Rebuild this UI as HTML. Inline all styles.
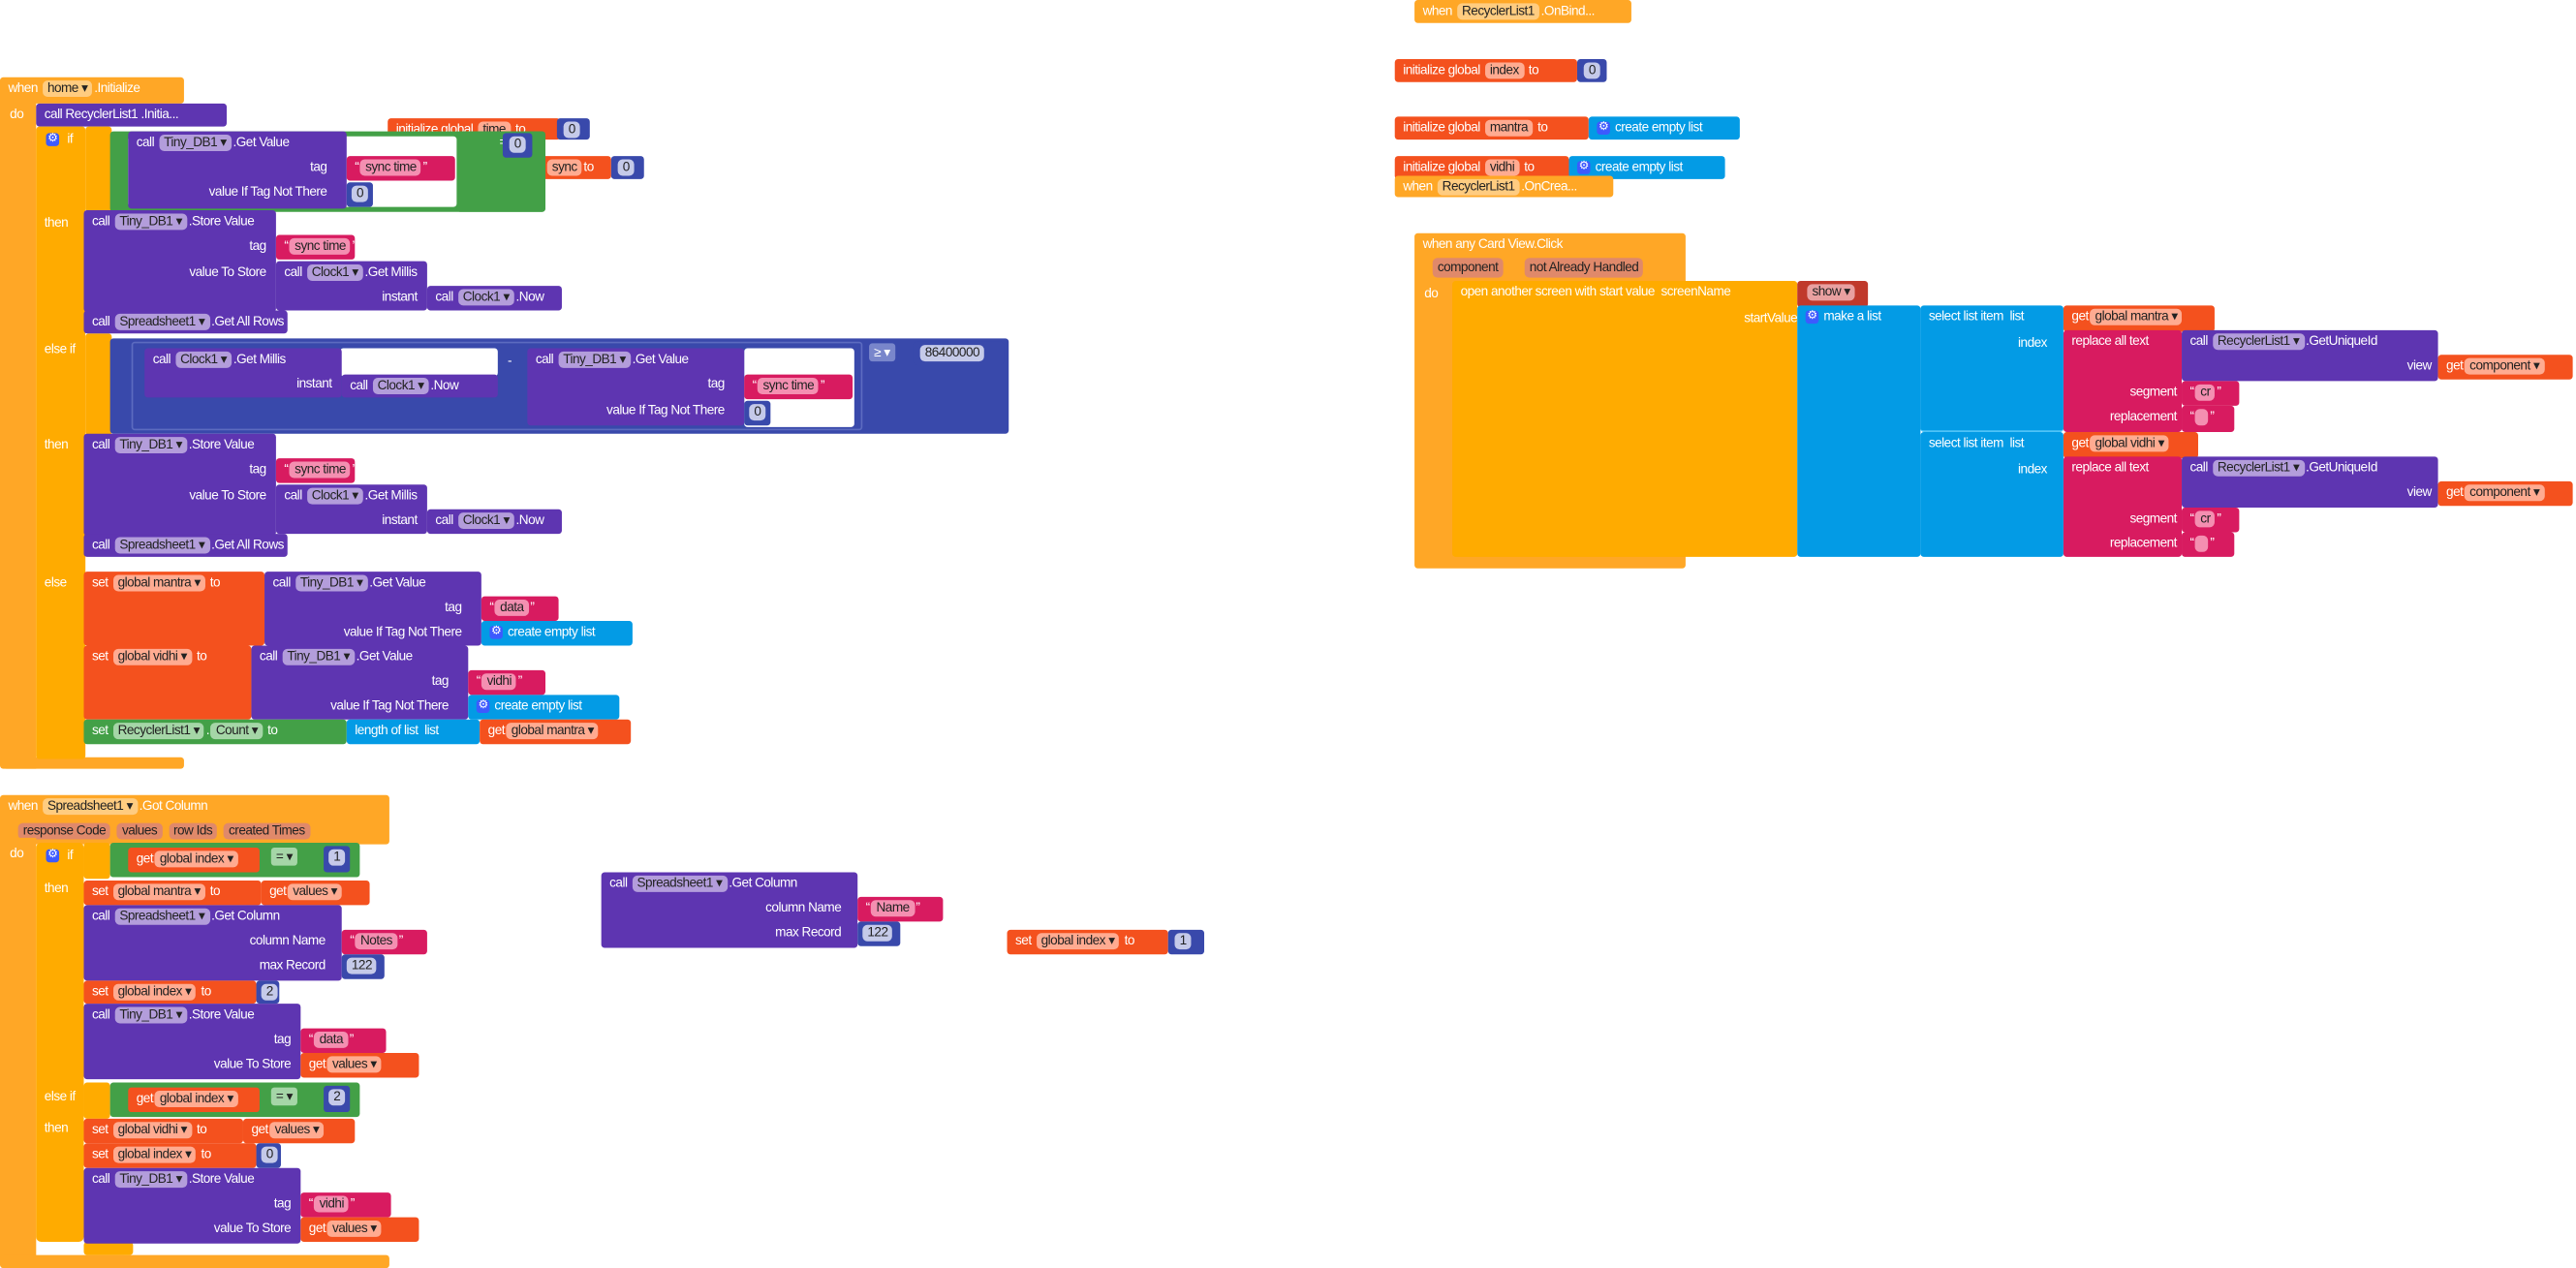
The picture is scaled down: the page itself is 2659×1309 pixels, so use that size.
<!DOCTYPE html>
<html><head><meta charset="utf-8"><style>
html,body{margin:0;padding:0;background:#fff;width:2659px;height:1309px;overflow:hidden}
#s{position:absolute;left:0;top:0;width:1568px;height:772px;transform:scale(1.6958);transform-origin:0 0}
.b{position:absolute;box-sizing:border-box;color:#fff;font:8px/14px "Liberation Sans",sans-serif;letter-spacing:-0.3px;white-space:nowrap;padding-left:5px;border-radius:2px}
.t{position:absolute;color:#fff;font:8px/14px "Liberation Sans",sans-serif;letter-spacing:-0.3px;white-space:nowrap}
.c{display:inline-block;padding:0 3px;border-radius:3px;line-height:10px;color:#222;margin:0 1px}
.E{background:#FFA726}.Y{background:#FFAB00}.P{background:#5E35B1}.R{background:#F4511E}.K{background:#D81B60}.G{background:#43A047}.N{background:#3949AB}.L{background:#039BE5}.W{background:#fff}
.P .c{background:#B39DDB}.R .c{background:#FFAB91}.K .c{background:#F48FB1}.G .c{background:#A5D6A7}.N .c{background:#C5CAE9}.E .c{background:#FFCC80}
.cog{display:inline-block;width:8px;height:8px;background:#3d5afe;border-radius:2px;color:#fff;font-size:7px;line-height:8px;text-align:center;margin-right:3px;vertical-align:middle}
</style></head><body><div id="s">

<div class="b E" style="left:861px;top:0;width:132px;height:14px">when <span class="c">RecyclerList1</span>.OnBind...</div>
<div class="b R" style="left:849px;top:36px;width:111px;height:14px">initialize global <span class="c">index</span> to</div>
<div class="b N" style="left:960px;top:36px;width:18px;height:14px;padding-left:3px"><span class="c">0</span></div>
<div class="b R" style="left:849px;top:71px;width:118px;height:14px">initialize global <span class="c">mantra</span> to</div>
<div class="b L" style="left:967px;top:71px;width:92px;height:14px"><span class="cog">⚙</span>create empty list</div>
<div class="b R" style="left:849px;top:95px;width:106px;height:14px">initialize global <span class="c">vidhi</span> to</div>
<div class="b L" style="left:955px;top:95px;width:95px;height:14px"><span class="cog">⚙</span>create empty list</div>
<div class="b E" style="left:849px;top:107px;width:133px;height:13px">when <span class="c">RecyclerList1</span>.OnCrea...</div>

<div class="b E" style="left:861px;top:142px;width:165px;height:204px"></div>
<div class="t" style="left:866px;top:142px">when any Card View.Click</div>
<div class="t" style="left:872px;top:157px;background:#e0896a;border-radius:3px;line-height:12px;padding:0 3px;color:#222">component</div>
<div class="t" style="left:928px;top:157px;background:#e0896a;border-radius:3px;line-height:12px;padding:0 3px;color:#222">not Already Handled</div>
<div class="t" style="left:867px;top:172px">do</div>
<div class="b Y" style="left:884px;top:171px;width:210px;height:168px"></div>
<div class="t" style="left:889px;top:171px">open another screen with start value &nbsp;screenName</div>
<div class="t" style="right:474px;top:187px">startValue</div>
<div class="b" style="left:1094px;top:171px;width:43px;height:16px;background:#C0392B"><span class="c" style="background:#e8a0a0">show ▾</span></div>
<div class="b L" style="left:1094px;top:186px;width:75px;height:153px"><span class="cog">⚙</span>make a list</div>
<div class="b L" style="left:1169px;top:186px;width:87px;height:77px;border-bottom:1px solid #4fc3f7">select list item &nbsp;list<div class="t" style="right:10px;top:16px">index</div></div>
<div class="b L" style="left:1169px;top:263px;width:87px;height:76px">select list item &nbsp;list<div class="t" style="right:10px;top:16px">index</div></div>
<div class="b R" style="left:1256px;top:186px;width:92px;height:16px">get<span class="c">global mantra ▾</span></div>
<div class="b R" style="left:1256px;top:263px;width:82px;height:16px">get<span class="c">global vidhi ▾</span></div>

<div class="b K" style="left:1256px;top:201px;width:72px;height:62px">replace all text<div class="t" style="right:3px;top:31px">segment</div><div class="t" style="right:3px;top:46px">replacement</div></div>
<div class="b P" style="left:1328px;top:201px;width:156px;height:31px">call <span class="c">RecyclerList1 ▾</span>.GetUniqueId<div class="t" style="right:4px;top:15px">view</div></div>
<div class="b R" style="left:1484px;top:216px;width:82px;height:15px">get<span class="c">component ▾</span></div>
<div class="b K" style="left:1328px;top:232px;width:35px;height:15px">“<span class="c">cr</span>”</div>
<div class="b K" style="left:1328px;top:247px;width:32px;height:16px">“<span class="c">&nbsp;</span>”</div>

<div class="b K" style="left:1256px;top:278px;width:72px;height:61px">replace all text<div class="t" style="right:3px;top:31px">segment</div><div class="t" style="right:3px;top:46px">replacement</div></div>
<div class="b P" style="left:1328px;top:278px;width:156px;height:31px">call <span class="c">RecyclerList1 ▾</span>.GetUniqueId<div class="t" style="right:4px;top:15px">view</div></div>
<div class="b R" style="left:1484px;top:293px;width:82px;height:15px">get<span class="c">component ▾</span></div>
<div class="b K" style="left:1328px;top:309px;width:35px;height:15px">“<span class="c">cr</span>”</div>
<div class="b K" style="left:1328px;top:324px;width:32px;height:15px">“<span class="c">&nbsp;</span>”</div>

<div class="b E" style="left:0;top:47px;width:112px;height:16px">when <span class="c">home ▾</span>.Initialize</div>
<div class="b E" style="left:0;top:60px;width:22px;height:408px;border-radius:0 0 0 4px"></div>
<div class="b E" style="left:0;top:461px;width:112px;height:7px"></div>
<div class="t" style="left:6px;top:63px">do</div>
<div class="b P" style="left:22px;top:63px;width:116px;height:14px">call RecyclerList1 .Initia...</div>
<div class="b Y" style="left:22px;top:77px;width:30px;height:385px"></div>
<div class="t" style="left:28px;top:78px"><span class="cog">⚙</span> if</div>
<div class="t" style="left:27px;top:129px">then</div>
<div class="t" style="left:27px;top:206px">else if</div>
<div class="t" style="left:27px;top:264px">then</div>
<div class="t" style="left:27px;top:348px">else</div>
<div class="b Y" style="left:52px;top:77px;width:16px;height:52px"></div>
<div class="b Y" style="left:52px;top:203px;width:16px;height:62px"></div>

<div class="b R" style="left:236px;top:72px;width:105px;height:13px">initialize global <span class="c">time</span> to</div>
<div class="b N" style="left:339px;top:72px;width:20px;height:13px;padding-left:3px"><span class="c">0</span></div>
<div class="b R" style="left:322px;top:95px;width:50px;height:14px;padding-left:10px"><span class="c">sync</span>to</div>
<div class="b N" style="left:372px;top:95px;width:20px;height:14px;padding-left:3px"><span class="c">0</span></div>

<div class="b G" style="left:67px;top:80px;width:265px;height:49px"></div>
<div class="b W" style="left:78px;top:83px;width:200px;height:43px"></div>
<div class="b P" style="left:78px;top:80px;width:133px;height:47px">call <span class="c">Tiny_DB1 ▾</span>.Get Value<div class="t" style="right:12px;top:15px">tag</div><div class="t" style="right:12px;top:30px">value If Tag Not There</div></div>
<div class="b K" style="left:211px;top:95px;width:66px;height:15px">“<span class="c">sync time</span>”</div>
<div class="b N" style="left:211px;top:111px;width:16px;height:15px;padding-left:2px"><span class="c">0</span></div>
<div class="b G" style="left:278px;top:80px;width:54px;height:49px;padding-left:26px">= ▾</div>
<div class="b N" style="left:306px;top:81px;width:18px;height:15px;padding-left:3px"><span class="c">0</span></div>

<div class="b P" style="left:51px;top:128px;width:117px;height:62px">call <span class="c">Tiny_DB1 ▾</span>.Store Value<div class="t" style="right:6px;top:15px">tag</div><div class="t" style="right:6px;top:31px">value To Store</div></div>
<div class="b K" style="left:168px;top:143px;width:48px;height:15px">“<span class="c">sync time</span>”</div>
<div class="b P" style="left:168px;top:159px;width:92px;height:30px">call <span class="c">Clock1 ▾</span>.Get Millis<div class="t" style="right:6px;top:15px">instant</div></div>
<div class="b P" style="left:260px;top:174px;width:82px;height:15px">call <span class="c">Clock1 ▾</span>.Now</div>
<div class="b P" style="left:51px;top:189px;width:124px;height:14px">call <span class="c">Spreadsheet1 ▾</span>.Get All Rows</div>

<div class="b N" style="left:67px;top:206px;width:547px;height:58px"></div>
<div class="b N" style="left:80px;top:208px;width:445px;height:54px;border:1px solid #5c6bc0"></div>
<div class="b W" style="left:207px;top:212px;width:96px;height:17px"></div>
<div class="b W" style="left:453px;top:212px;width:67px;height:48px"></div>
<div class="b P" style="left:88px;top:212px;width:120px;height:30px">call <span class="c">Clock1 ▾</span>.Get Millis<div class="t" style="right:6px;top:15px">instant</div></div>
<div class="b P" style="left:208px;top:228px;width:95px;height:14px">call <span class="c">Clock1 ▾</span>.Now</div>
<div class="t" style="left:309px;top:213px">-</div>
<div class="b P" style="left:321px;top:212px;width:132px;height:47px">call <span class="c">Tiny_DB1 ▾</span>.Get Value<div class="t" style="right:12px;top:15px">tag</div><div class="t" style="right:12px;top:31px">value If Tag Not There</div></div>
<div class="b K" style="left:453px;top:228px;width:66px;height:15px">“<span class="c">sync time</span>”</div>
<div class="b N" style="left:453px;top:244px;width:16px;height:15px;padding-left:2px"><span class="c">0</span></div>
<div class="t" style="left:529px;top:209px;background:#7986cb;padding:0 3px;line-height:11px;border-radius:2px">≥ ▾</div>
<div class="b N" style="left:556px;top:208px;width:55px;height:14px;padding-left:3px"><span class="c">86400000</span></div>

<div class="b P" style="left:51px;top:264px;width:117px;height:62px">call <span class="c">Tiny_DB1 ▾</span>.Store Value<div class="t" style="right:6px;top:15px">tag</div><div class="t" style="right:6px;top:31px">value To Store</div></div>
<div class="b K" style="left:168px;top:279px;width:48px;height:15px">“<span class="c">sync time</span>”</div>
<div class="b P" style="left:168px;top:295px;width:92px;height:30px">call <span class="c">Clock1 ▾</span>.Get Millis<div class="t" style="right:6px;top:15px">instant</div></div>
<div class="b P" style="left:260px;top:310px;width:82px;height:15px">call <span class="c">Clock1 ▾</span>.Now</div>
<div class="b P" style="left:51px;top:325px;width:124px;height:14px">call <span class="c">Spreadsheet1 ▾</span>.Get All Rows</div>

<div class="b R" style="left:51px;top:348px;width:110px;height:45px">set <span class="c">global mantra ▾</span> to</div>
<div class="b P" style="left:161px;top:348px;width:132px;height:45px">call <span class="c">Tiny_DB1 ▾</span>.Get Value<div class="t" style="right:12px;top:15px">tag</div><div class="t" style="right:12px;top:30px">value If Tag Not There</div></div>
<div class="b K" style="left:293px;top:363px;width:47px;height:15px">“<span class="c">data</span>”</div>
<div class="b L" style="left:293px;top:378px;width:92px;height:15px"><span class="cog">⚙</span>create empty list</div>
<div class="b R" style="left:51px;top:393px;width:102px;height:45px">set <span class="c">global vidhi ▾</span> to</div>
<div class="b P" style="left:153px;top:393px;width:132px;height:45px">call <span class="c">Tiny_DB1 ▾</span>.Get Value<div class="t" style="right:12px;top:15px">tag</div><div class="t" style="right:12px;top:30px">value If Tag Not There</div></div>
<div class="b K" style="left:285px;top:408px;width:47px;height:15px">“<span class="c">vidhi</span>”</div>
<div class="b L" style="left:285px;top:423px;width:92px;height:15px"><span class="cog">⚙</span>create empty list</div>
<div class="b G" style="left:51px;top:438px;width:160px;height:15px">set <span class="c">RecyclerList1 ▾</span>.<span class="c">Count ▾</span> to</div>
<div class="b L" style="left:211px;top:438px;width:81px;height:15px">length of list &nbsp;list</div>
<div class="b R" style="left:292px;top:438px;width:92px;height:15px">get<span class="c">global mantra ▾</span></div>

<div class="b E" style="left:0;top:484px;width:237px;height:30px"></div>
<div class="t" style="left:5px;top:484px">when <span class="c" style="background:#FFCC80">Spreadsheet1 ▾</span>.Got Column</div>
<div class="t" style="left:10px;top:499px"><span class="c" style="background:#e0896a">response Code</span> <span class="c" style="background:#e0896a">values</span> <span class="c" style="background:#e0896a">row Ids</span> <span class="c" style="background:#e0896a">created Times</span></div>
<div class="b E" style="left:0;top:510px;width:22px;height:262px;border-radius:0 0 0 4px"></div>
<div class="b E" style="left:0;top:764px;width:237px;height:8px"></div>
<div class="t" style="left:6px;top:513px">do</div>
<div class="b Y" style="left:22px;top:513px;width:29px;height:243px;border-radius:3px"></div>
<div class="t" style="left:28px;top:514px"><span class="cog">⚙</span> if</div>
<div class="t" style="left:27px;top:534px">then</div>
<div class="t" style="left:27px;top:661px">else if</div>
<div class="t" style="left:27px;top:680px">then</div>
<div class="b Y" style="left:51px;top:513px;width:16px;height:22px"></div>
<div class="b Y" style="left:51px;top:659px;width:16px;height:22px"></div>
<div class="b Y" style="left:51px;top:756px;width:30px;height:8px"></div>

<div class="b G" style="left:67px;top:513px;width:152px;height:21px"></div>
<div class="b R" style="left:78px;top:516px;width:80px;height:15px">get<span class="c">global index ▾</span></div>
<div class="t" style="left:165px;top:516px;background:#A5D6A7;color:#222;padding:0 3px;line-height:11px;border-radius:2px">= ▾</div>
<div class="b N" style="left:197px;top:515px;width:16px;height:16px;padding-left:2px"><span class="c">1</span></div>
<div class="b R" style="left:51px;top:536px;width:108px;height:15px">set <span class="c">global mantra ▾</span> to</div>
<div class="b R" style="left:159px;top:536px;width:66px;height:15px">get<span class="c">values ▾</span></div>
<div class="b P" style="left:51px;top:551px;width:157px;height:46px">call <span class="c">Spreadsheet1 ▾</span>.Get Column<div class="t" style="right:10px;top:15px">column Name</div><div class="t" style="right:10px;top:30px">max Record</div></div>
<div class="b K" style="left:208px;top:566px;width:52px;height:15px">“<span class="c">Notes</span>”</div>
<div class="b N" style="left:208px;top:581px;width:26px;height:15px;padding-left:2px"><span class="c">122</span></div>
<div class="b R" style="left:51px;top:597px;width:105px;height:14px">set <span class="c">global index ▾</span> to</div>
<div class="b N" style="left:156px;top:597px;width:14px;height:14px;padding-left:2px"><span class="c">2</span></div>
<div class="b P" style="left:51px;top:611px;width:132px;height:46px">call <span class="c">Tiny_DB1 ▾</span>.Store Value<div class="t" style="right:6px;top:15px">tag</div><div class="t" style="right:6px;top:30px">value To Store</div></div>
<div class="b K" style="left:183px;top:626px;width:52px;height:15px">“<span class="c">data</span>”</div>
<div class="b R" style="left:183px;top:641px;width:72px;height:15px">get<span class="c">values ▾</span></div>

<div class="b G" style="left:67px;top:659px;width:152px;height:21px"></div>
<div class="b R" style="left:78px;top:662px;width:80px;height:15px">get<span class="c">global index ▾</span></div>
<div class="t" style="left:165px;top:662px;background:#A5D6A7;color:#222;padding:0 3px;line-height:11px;border-radius:2px">= ▾</div>
<div class="b N" style="left:197px;top:661px;width:16px;height:16px;padding-left:2px"><span class="c">2</span></div>
<div class="b R" style="left:51px;top:681px;width:97px;height:15px">set <span class="c">global vidhi ▾</span> to</div>
<div class="b R" style="left:148px;top:681px;width:68px;height:15px">get<span class="c">values ▾</span></div>
<div class="b R" style="left:51px;top:696px;width:105px;height:15px">set <span class="c">global index ▾</span> to</div>
<div class="b N" style="left:156px;top:696px;width:15px;height:15px;padding-left:2px"><span class="c">0</span></div>
<div class="b P" style="left:51px;top:711px;width:132px;height:46px">call <span class="c">Tiny_DB1 ▾</span>.Store Value<div class="t" style="right:6px;top:15px">tag</div><div class="t" style="right:6px;top:30px">value To Store</div></div>
<div class="b K" style="left:183px;top:726px;width:55px;height:15px">“<span class="c">vidhi</span>”</div>
<div class="b R" style="left:183px;top:741px;width:72px;height:15px">get<span class="c">values ▾</span></div>

<div class="b P" style="left:366px;top:531px;width:156px;height:46px">call <span class="c">Spreadsheet1 ▾</span>.Get Column<div class="t" style="right:10px;top:15px">column Name</div><div class="t" style="right:10px;top:30px">max Record</div></div>
<div class="b K" style="left:522px;top:546px;width:52px;height:15px">“<span class="c">Name</span>”</div>
<div class="b N" style="left:522px;top:561px;width:26px;height:15px;padding-left:2px"><span class="c">122</span></div>
<div class="b R" style="left:613px;top:566px;width:98px;height:15px">set <span class="c">global index ▾</span> to</div>
<div class="b N" style="left:711px;top:566px;width:22px;height:15px;padding-left:3px"><span class="c">1</span></div>

</div></body></html>
